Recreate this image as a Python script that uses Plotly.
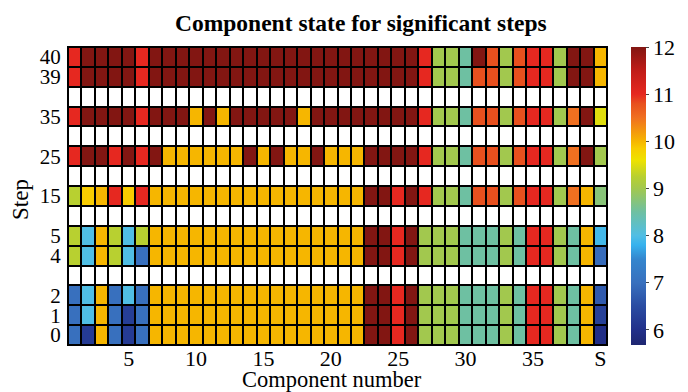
import plotly.graph_objects as go

# Component numbers (x) and tick labels
components = list(range(1, 41))
x_tickvals = [5, 10, 15, 20, 25, 30, 35, 40]
x_ticktext = ["5", "10", "15", "20", "25", "30", "35", "S"]

# Step rows, bottom to top ("" = empty separator row)
step_labels = ["0", "1", "2", "", "4", "5", "", "15", "", "25", "", "35", "", "39", "40"]

# Component state values per step
step_0 = [7, 6.2, 10, 7, 6.2, 7, 10, 10, 10, 10, 10, 10, 10, 10, 10, 10, 10, 10, 10, 10,
          10, 10, 12, 12, 11, 12, 9, 9, 9, 8.5, 8.5, 8.5, 9, 8.5, 11, 11, 9, 8.5, 10, 5.95]
step_1 = [7, 8, 10, 7, 6.25, 7, 10, 10, 10, 10, 10, 10, 10, 10, 10, 10, 10, 10, 10, 10,
          10, 10, 12, 12, 11, 12, 9, 9, 9, 8.5, 8.5, 8.5, 9, 8.5, 11, 11, 9, 8.5, 10, 6.3]
step_2 = [7, 8, 10, 7, 8, 7, 10, 10, 10, 10, 10, 10, 10, 10, 10, 10, 10, 10, 10, 10,
          10, 10, 12, 12, 11, 12, 9, 9, 9, 8.5, 8.5, 8.5, 9, 8.5, 11, 11, 9, 8.5, 10, 6.7]
step_4 = [9.25, 8, 10, 9.25, 8, 7, 10, 10, 10, 10, 10, 10, 10, 10, 10, 10, 10, 10, 10, 10,
          10, 10, 12, 12, 11, 12, 9, 9, 9, 8.5, 8.5, 8.5, 9, 8.5, 11, 11, 9, 8.5, 10, 6.95]
step_5 = [9.25, 8, 10, 9.25, 8, 9.25, 10, 10, 10, 10, 10, 10, 10, 10, 10, 10, 10, 10, 10, 10,
          10, 10, 12, 12, 11, 12, 9, 9, 9, 8.5, 8.5, 8.5, 9, 8.5, 11, 11, 9, 8.5, 10, 7.9]
step_15 = [9.25, 9.85, 10, 11, 9.85, 11, 10, 10, 10, 10, 10, 10, 10, 10, 10, 10, 10, 10, 10, 10,
           10, 10, 12, 12, 11, 12, 11, 9, 9, 8.5, 10.8, 10.8, 9, 10.8, 11, 11, 9, 10.5, 10, 8.75]
step_25 = [11, 12, 12, 11, 12, 11, 12, 10, 10, 10, 10, 10, 10, 12, 10, 12, 10, 10, 12, 10,
           10, 10, 12, 12, 12, 12, 11, 9, 9, 8.5, 10.8, 10.8, 9, 10.8, 11, 11, 9, 10.5, 12, 9]
step_35 = [11, 12, 12, 12, 12, 11, 12, 12, 12, 10, 12, 10, 12, 12, 12, 12, 12, 10, 12, 12,
           12, 12, 12, 12, 12, 12, 11, 9, 9, 8.5, 10.8, 10.8, 9, 10.8, 11, 11, 9, 10.5, 12, 9.5]
step_39 = [11, 12, 12, 12, 12, 11, 12, 12, 12, 12, 12, 12, 12, 12, 12, 12, 12, 12, 12, 12,
           12, 12, 12, 12, 12, 12, 11, 9, 9, 8.5, 10.8, 10.8, 9, 10.8, 11, 11, 9, 12, 12, 10]
step_40 = [11, 12, 12, 12, 12, 11, 12, 12, 12, 12, 12, 12, 12, 12, 12, 12, 12, 12, 12, 12,
           12, 12, 12, 12, 12, 12, 11, 9, 9, 8.5, 12, 10.8, 9, 10.8, 11, 11, 9, 12, 12, 10]

rows = [step_0, step_1, step_2, None, step_4, step_5, None, step_15, None,
        step_25, None, step_35, None, step_39, step_40]

zmin, zmax = 5.68, 12.0
stops = [(5.68, "#1E2670"), (6.0, "#22308A"), (6.5, "#2A4CA2"), (7.0, "#3870BE"),
         (7.5, "#3486CE"), (7.8, "#36B2EE"), (8.0, "#50BEE4"), (8.5, "#6EC0A2"),
         (9.0, "#A2C84E"), (9.25, "#B8D030"), (9.6, "#EEE200"), (9.85, "#F8CC00"),
         (10.0, "#F6B600"), (10.5, "#F07020"), (10.8, "#E8501E"), (11.0, "#E62820"),
         (11.5, "#C01C18"), (12.0, "#821612")]
colorscale = [[(v - zmin) / (zmax - zmin), c] for v, c in stops]

y_idx = list(range(len(rows)))
z_main = [r if r is not None else [None] * len(components) for r in rows]
z_blank = [[1] * len(components) if r is None else [None] * len(components) for r in rows]

font_family = "Liberation Serif"

fig = go.Figure()
fig.add_trace(go.Heatmap(
    x=components, y=y_idx, z=z_main, zmin=zmin, zmax=zmax,
    colorscale=colorscale, xgap=2, ygap=2, hoverongaps=False,
    colorbar=dict(
        x=(631 - 68) / 539, xanchor="left", xpad=0, y=0.5, yanchor="middle", ypad=0,
        len=1.0, lenmode="fraction",
        thickness=15, outlinewidth=0,
        tickvals=[6, 7, 8, 9, 10, 11, 12], ticks="outside", ticklen=3,
        tickfont=dict(family=font_family, size=22, color="black"),
    ),
))
fig.add_trace(go.Heatmap(
    x=components, y=y_idx, z=z_blank, zmin=0, zmax=1,
    colorscale=[[0, "white"], [1, "white"]], showscale=False,
    xgap=2, ygap=2, hoverinfo="skip",
))

# page body has an 8px margin, so the figure is 680x384 and offset by 8px
fig.update_layout(
    width=680, height=384,
    margin=dict(l=60, r=81, t=39, b=47, autoexpand=False),
    paper_bgcolor="white", plot_bgcolor="black",
    font=dict(family=font_family, color="black"),
    annotations=[
        dict(text="<b>Component state for significant steps</b>", xref="paper", yref="paper",
             x=(361 - 68) / 539, y=1 + 24 / 298, xanchor="center", yanchor="middle",
             showarrow=False, font=dict(family=font_family, size=23.5, color="black")),
        dict(text="Component number", xref="paper", yref="paper",
             x=(332 - 68) / 539, y=-(379 - 345) / 298, xanchor="center", yanchor="middle",
             showarrow=False, font=dict(family=font_family, size=22.5, color="black")),
        dict(text="Step", xref="paper", yref="paper", textangle=-90,
             x=(20 - 68) / 539, y=(345 - 200) / 298, xanchor="center", yanchor="middle",
             showarrow=False, font=dict(family=font_family, size=23, color="black")),
    ],
)
fig.update_xaxes(
    range=[0.5, 40.5], tickvals=x_tickvals, ticktext=x_ticktext,
    tickfont=dict(family=font_family, size=22), ticks="", ticklabelstandoff=-6,
    showgrid=False, zeroline=False, showline=True, linecolor="black", linewidth=1, mirror=True,
)
tick_pos = [i for i, s in enumerate(step_labels) if s]
fig.update_yaxes(
    range=[-0.5, len(rows) - 0.5], tickvals=tick_pos, ticktext=[step_labels[i] for i in tick_pos],
    tickfont=dict(family=font_family, size=21), ticks="", ticklabelstandoff=2,
    showgrid=False, zeroline=False, showline=True, linecolor="black", linewidth=1, mirror=True,
)

fig.write_html("out.html")
